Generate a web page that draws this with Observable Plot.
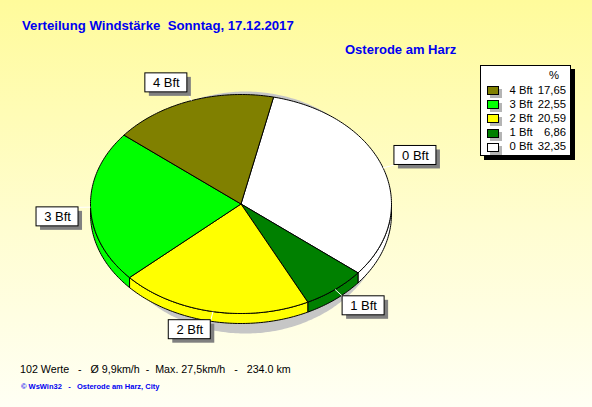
<!DOCTYPE html>
<html><head><meta charset="utf-8">
<script src="https://cdn.jsdelivr.net/npm/d3@7"></script>
<script src="https://cdn.jsdelivr.net/npm/@observablehq/plot@0.6"></script>
<style>
html,body{margin:0;padding:0;}
#chart{position:relative;width:592px;height:407px;overflow:hidden;background:linear-gradient(to bottom,#fffb9b 0%,#fffdd0 55%,#fffff4 100%);font-family:"Liberation Sans",Arial,sans-serif;}
.t{position:absolute;white-space:pre;line-height:1;}
#plot{position:absolute;left:0;top:0;}
#legend{position:absolute;left:480px;top:65px;width:89px;height:89px;background:#fff;border:1px solid #000;box-shadow:4px 4px 0 #000;}
.sw{position:absolute;width:10px;height:7px;border:1px solid #000;box-shadow:3px 3px 0 #b4b4b4;}
.lt{position:absolute;font-size:11.3px;line-height:1;white-space:pre;color:#000;}
</style></head><body>
<div id="chart">
  <div class="t" style="left:22px;top:19px;font-size:13.2px;font-weight:bold;color:#0000f0">Verteilung Windstärke  Sonntag, 17.12.2017</div>
  <div class="t" style="left:345px;top:43px;font-size:13px;font-weight:bold;color:#0000f0">Osterode am Harz</div>
  <div id="plot"></div>
  <div id="legend"></div>
  <div class="t" style="left:20px;top:364px;font-size:10.7px;color:#000">102 Werte   -   Ø 9,9km/h  -  Max. 27,5km/h   -   234.0 km</div>
  <div class="t" style="left:21px;top:383px;font-size:7.5px;font-weight:bold;color:#0000f0">© WsWin32   -   Osterode am Harz, City</div>
</div>
<script>
// ---- data ----
const categories = ["0 Bft", "1 Bft", "2 Bft", "3 Bft", "4 Bft"];
const percents   = [32.35, 6.86, 20.59, 22.55, 17.65];
const colors     = ["#ffffff", "#008000", "#ffff00", "#00ff00", "#808000"];
const percentLabels = ["32,35", "6,86", "20,59", "22,55", "17,65"];
const legendOrder = ["4 Bft", "3 Bft", "2 Bft", "1 Bft", "0 Bft"];

// ---- layout ----
const cx = 240.5, cy = 203.5, rx = 150.5, ry = 109.5, depth = 10;
const startAngle = 12.5;
const rad = a => a * Math.PI / 180;
const ux = a => Math.sin(rad(a)), uy = a => Math.cos(rad(a));
const dU = depth / ry;
function arcPts(a0, a1) {
  const n = Math.max(2, Math.ceil(Math.abs(a1 - a0)) + 1);
  return d3.range(n).map(k => a0 + (a1 - a0) * k / (n - 1));
}
let acc = startAngle;
const slices = categories.map((c, i) => {
  const a0 = acc, a1 = acc + percents[i] * 3.6; acc = a1;
  return {cat: c, a0, a1, mid: (a0 + a1) / 2};
});
const topPts = slices.flatMap(s => [
  {cat: s.cat, x: 0, y: 0},
  ...arcPts(s.a0, s.a1).map(a => ({cat: s.cat, x: ux(a), y: uy(a)})),
  {cat: s.cat, x: 0, y: 0}
]);
const sidePts = slices.flatMap(s => {
  const b0 = Math.max(s.a0, 90), b1 = Math.min(s.a1, 270);
  if (b1 <= b0) return [];
  const arc = arcPts(b0, b1);
  return [
    ...arc.map(a => ({cat: s.cat, x: ux(a), y: uy(a)})),
    ...arc.slice().reverse().map(a => ({cat: s.cat, x: ux(a), y: uy(a) - dU})),
    {cat: s.cat, x: ux(b0), y: uy(b0)}
  ];
});
const shadowPts = arcPts(0, 360).map(a => ({x: 0.03 + 0.94 * ux(a), y: -0.078 + 1.105 * uy(a)}));

const lr = 1.08, bw = 42 / rx, bh = 19 / ry;
const labels = slices.map(s => {
  const px = lr * ux(s.mid), py = lr * uy(s.mid);
  const right = ux(s.mid) >= 0, top = uy(s.mid) >= 0;
  return {
    cat: s.cat,
    x1: right ? px : px - bw, x2: right ? px + bw : px,
    y1: top ? py : py - bh, y2: top ? py + bh : py,
    lx0: ux(s.mid), ly0: uy(s.mid), lx1: px, ly1: py
  };
});

const plot = Plot.plot({
  width: 592, height: 407,
  marginTop: 0, marginRight: 0, marginBottom: 0, marginLeft: 0,
  x: {domain: [-1, 1], range: [cx - rx, cx + rx], axis: null},
  y: {domain: [-1, 1], range: [cy + ry, cy - ry], axis: null},
  color: {domain: categories, range: colors},
  style: {background: "transparent", fontFamily: "'Liberation Sans', Arial, sans-serif", overflow: "visible"},
  marks: [
    Plot.line(shadowPts, {x: "x", y: "y", fill: "#c6c6c6", stroke: "none"}),
    Plot.line(sidePts, {x: "x", y: "y", z: "cat", fill: "cat", stroke: "#000", strokeWidth: 1}),
    Plot.line(topPts, {x: "x", y: "y", z: "cat", fill: "cat", stroke: "#000", strokeWidth: 1}),
    Plot.link(labels, {x1: "lx0", y1: "ly0", x2: "lx1", y2: "ly1", stroke: "#fff", strokeWidth: 1}),
    Plot.rect(labels, {x1: "x1", x2: "x2", y1: "y1", y2: "y2", fill: "#808080", dx: 4, dy: 4}),
    Plot.rect(labels, {x1: "x1", x2: "x2", y1: "y1", y2: "y2", fill: "#fff", stroke: "#000", strokeWidth: 1}),
    Plot.text(labels, {x: d => (d.x1 + d.x2) / 2, y: d => (d.y1 + d.y2) / 2, text: "cat", fontSize: 13, fill: "#000"})
  ]
});
document.getElementById("plot").appendChild(plot);

// ---- legend (HTML) ----
const lg = document.getElementById("legend");
const L0 = 480, T0 = 65;
const pct = document.createElement("div");
pct.className = "lt"; pct.textContent = "%";
pct.style.left = (552 - L0 - 4) + "px"; pct.style.top = (75 - T0 - 6) + "px";
lg.appendChild(pct);
legendOrder.forEach((c, r) => {
  const i = categories.indexOf(c);
  const yc = 90.5 + r * 14.2;
  const sw = document.createElement("div");
  sw.className = "sw"; sw.style.background = colors[i];
  sw.style.left = (487 - L0 - 1) + "px"; sw.style.top = (yc - 4.5 - T0 - 1) + "px";
  lg.appendChild(sw);
  const t = document.createElement("div");
  t.className = "lt"; t.textContent = c;
  t.style.left = (509.5 - L0 - 1) + "px"; t.style.top = (yc - 6 - T0 - 1) + "px";
  lg.appendChild(t);
  const v = document.createElement("div");
  v.className = "lt"; v.textContent = percentLabels[i];
  v.style.right = (570 - 566) + "px"; v.style.top = (yc - 6 - T0 - 1) + "px";
  v.style.textAlign = "right";
  lg.appendChild(v);
});
</script>
</body></html>
